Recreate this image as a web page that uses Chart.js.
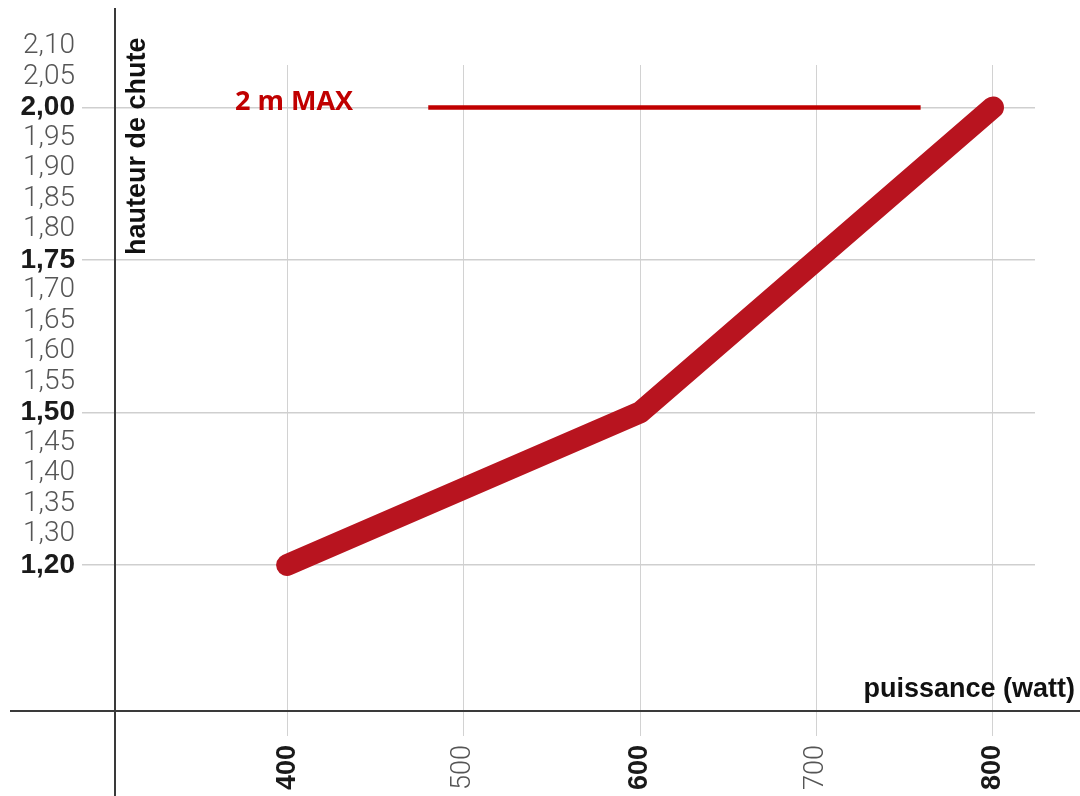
<!DOCTYPE html>
<html lang="fr">
<head>
    <meta charset="UTF-8">
    <title>Hauteur de chute / puissance</title>
    <script src="https://cdn.jsdelivr.net/npm/chart.js"></script>
    <style>
        body {
            margin: 0;
            background: #fff;
        }

        #wrap {
            width: 1080px;
            height: 796px;
        }
    </style>
</head>
<body>

<div id="wrap"><canvas id="myChart"></canvas></div>

<script>
    // données
    const watts = [400, 600, 800];
    const heights = [1.20, 1.50, 2.00];

    // ligne "2 m MAX"
    const maxLineWatts = [480, 759];
    const maxHeight = 2.00;

    // l'axe vertical n'est pas régulier : chaque libellé occupe un cran (1,25 manque)
    const yTickLabels = ['1,20', '1,30', '1,35', '1,40', '1,45', '1,50', '1,55', '1,60', '1,65',
        '1,70', '1,75', '1,80', '1,85', '1,90', '1,95', '2,00', '2,05', '2,10'];
    const yBoldLabels = ['1,20', '1,50', '1,75', '2,00'];

    const xTicks = [400, 500, 600, 700, 800];
    const xBoldTicks = [400, 600, 800];

    // position d'une hauteur sur l'axe (index de son libellé)
    function slot(h) {
        return yTickLabels.indexOf(h.toFixed(2).replace('.', ','));
    }

    const isBoldY = c => !!(c && c.tick && yBoldLabels.includes(yTickLabels[c.tick.value]));
    const isBoldX = c => !!(c && c.tick && xBoldTicks.includes(c.tick.value));

    const BOLD_FONT = { family: '"Liberation Sans", Arial', size: 28, weight: 'bold' };
    const LIGHT_FONT = { family: 'Roboto', size: 28, weight: '300' };

    const RED = '#b8141f';
    const MAX_RED = '#c00000';

    // axes en croix + textes
    const decor = {
        id: 'decor',
        beforeDatasetsDraw(chart) {
            const ctx = chart.ctx;
            const a = chart.chartArea;
            ctx.save();
            ctx.strokeStyle = '#3a3a3a';
            ctx.lineWidth = 2;
            ctx.beginPath();
            ctx.moveTo(a.left, 8);
            ctx.lineTo(a.left, chart.height);
            ctx.moveTo(10, a.bottom);
            ctx.lineTo(chart.width, a.bottom);
            ctx.stroke();
            ctx.restore();
        },
        afterDraw(chart) {
            const ctx = chart.ctx;
            const a = chart.chartArea;
            const y = chart.scales.y;
            ctx.save();
            ctx.fillStyle = '#111';
            ctx.font = 'bold 27px "Liberation Sans", Arial, sans-serif';

            // titre axe vertical
            ctx.save();
            ctx.translate(a.left + 30, 255);
            ctx.rotate(-Math.PI / 2);
            ctx.textAlign = 'left';
            ctx.textBaseline = 'alphabetic';
            ctx.fillText('hauteur de chute', 0, 0);
            ctx.restore();

            // titre axe horizontal
            ctx.textAlign = 'right';
            ctx.textBaseline = 'alphabetic';
            ctx.fillText('puissance (watt)', chart.width - 5, a.bottom - 14);

            // libellé 2 m MAX
            ctx.fillStyle = MAX_RED;
            ctx.font = 'bold 27px "Open Sans", sans-serif';
            ctx.textAlign = 'left';
            ctx.fillText('2 m MAX', 235, y.getPixelForValue(slot(maxHeight)) + 3);
            ctx.restore();
        }
    };

    function createChart() {
        const ctx = document.getElementById('myChart').getContext('2d');

        new Chart(ctx, {
            type: 'line',
            data: {
                datasets: [{
                    label: 'hauteur de chute',
                    data: watts.map((w, i) => ({ x: w, y: slot(heights[i]) })),
                    borderColor: RED,
                    borderWidth: 22,
                    borderCapStyle: 'round',
                    borderJoinStyle: 'round',
                    pointRadius: 0,
                    tension: 0
                }, {
                    label: '2 m MAX',
                    data: maxLineWatts.map(w => ({ x: w, y: slot(maxHeight) })),
                    borderColor: MAX_RED,
                    borderWidth: 4.5,
                    pointRadius: 0
                }]
            },
            options: {
                responsive: true,
                maintainAspectRatio: false,
                animation: false,
                layout: {
                    padding: { top: 65, right: 45, left: 0, bottom: 0 }
                },
                plugins: {
                    legend: { display: false },
                    tooltip: { enabled: false }
                },
                scales: {
                    x: {
                        type: 'linear',
                        min: 302.5,
                        max: 823.8,
                        bounds: 'data',
                        afterBuildTicks: s => { s.ticks = xTicks.map(v => ({ value: v })); },
                        afterFit: s => { s.height = 85; },
                        border: { display: false },
                        grid: {
                            color: '#d2d2d2',
                            lineWidth: 1,
                            tickLength: 25
                        },
                        ticks: {
                            autoSkip: false,
                            minRotation: 90,
                            maxRotation: 90,
                            padding: 9,
                            callback: v => String(v),
                            color: c => isBoldX(c) ? '#1a1a1a' : '#555',
                            font: c => isBoldX(c) ? { ...BOLD_FONT, size: 27 } : { ...LIGHT_FONT, size: 27 }
                        }
                    },
                    y: {
                        type: 'linear',
                        min: -4.787,
                        max: 16.39,
                        bounds: 'data',
                        afterBuildTicks: s => { s.ticks = yTickLabels.map((l, i) => ({ value: i })); },
                        afterFit: s => { s.width = 115; },
                        border: { display: false },
                        grid: {
                            color: c => isBoldY(c) ? '#cfcfcf' : 'rgba(0,0,0,0)',
                            lineWidth: 1.5,
                            tickLength: 33
                        },
                        ticks: {
                            autoSkip: false,
                            padding: 7,
                            callback: v => yTickLabels[v],
                            color: c => isBoldY(c) ? '#1a1a1a' : '#555',
                            font: c => isBoldY(c) ? BOLD_FONT : LIGHT_FONT
                        }
                    }
                }
            },
            plugins: [decor]
        });
    }

    document.addEventListener('DOMContentLoaded', createChart);
</script>

</body>
</html>
